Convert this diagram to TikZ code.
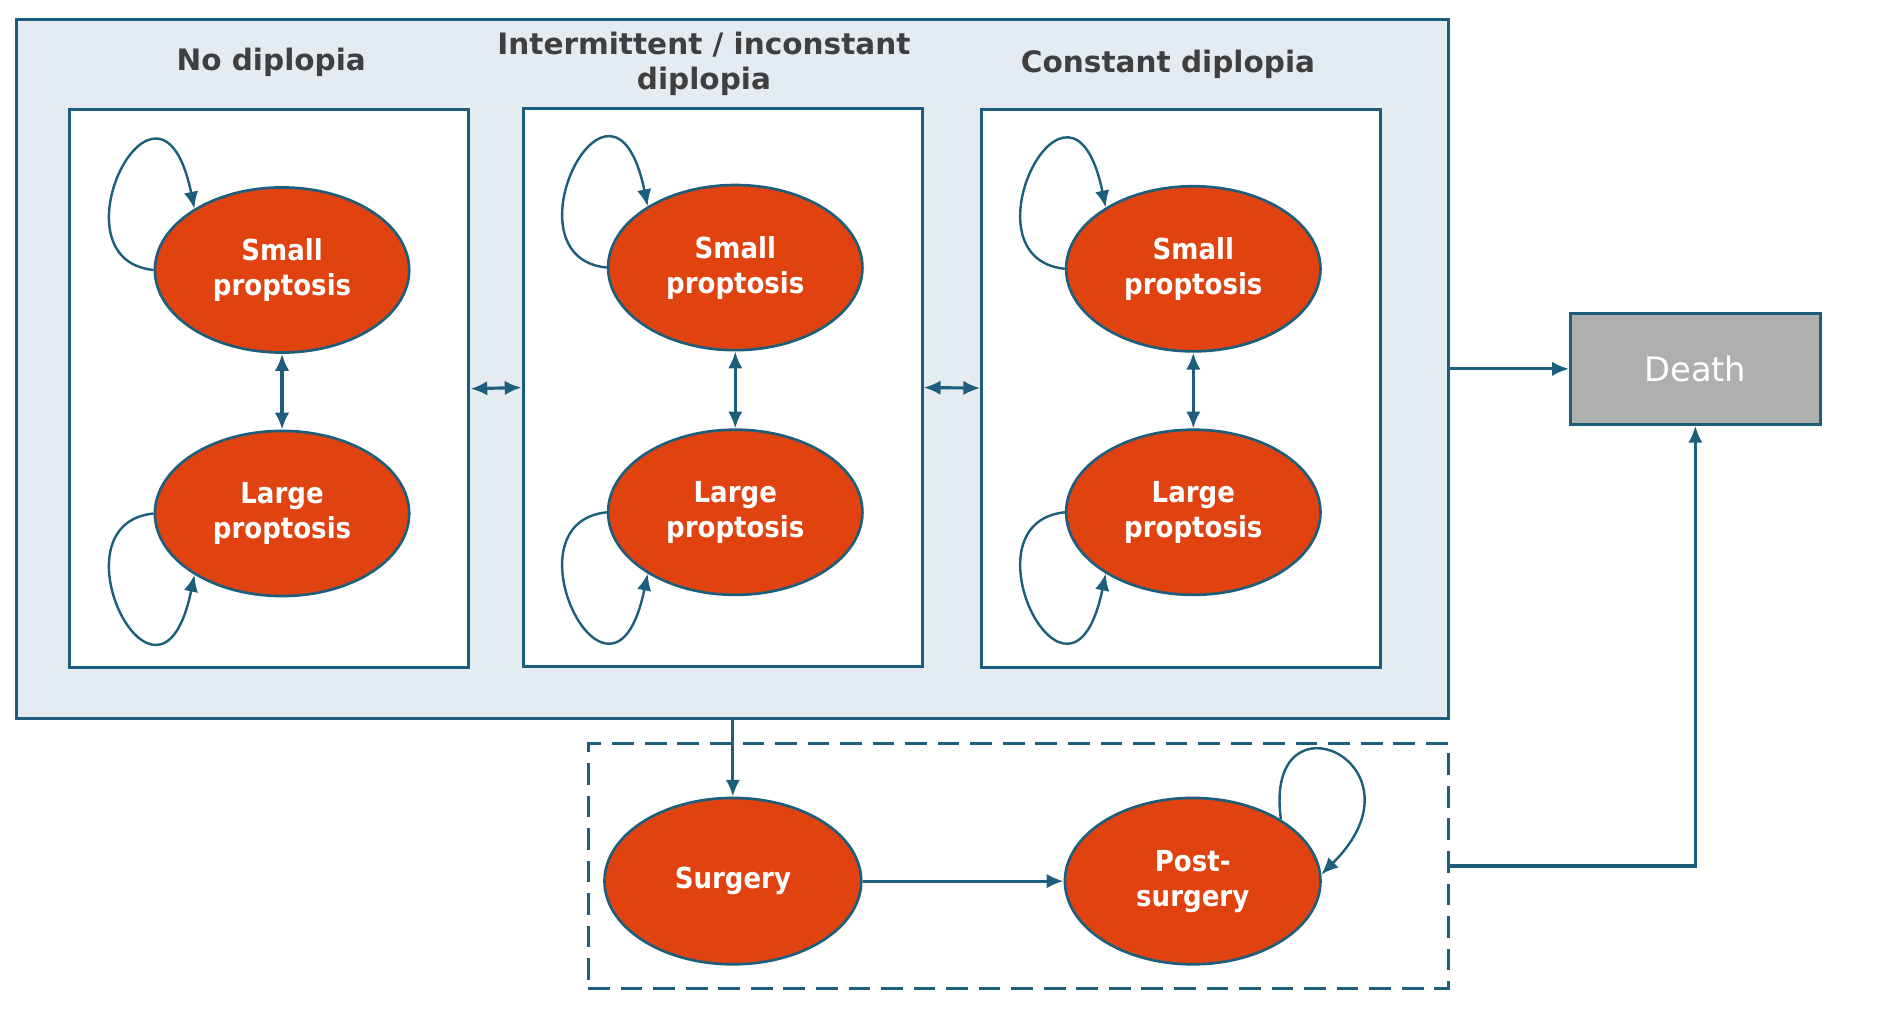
\documentclass[tikz,border=0pt]{standalone}
\usepackage{fontspec}
\setmainfont{DejaVu Sans}
\newfontfamily\statefont{DejaVu Sans Condensed}
\usetikzlibrary{shapes.geometric,arrows.meta}
\definecolor{lineblue}{HTML}{1D5E7C}
\definecolor{panelfill}{HTML}{E5ECF1}
\definecolor{stateorange}{HTML}{E0430F}
\definecolor{deathgray}{HTML}{AFAFAD}
\definecolor{titlegray}{HTML}{3F3F3F}
\tikzset{
  panel/.style={draw=lineblue, line width=2.6pt, fill=white, rectangle, minimum width=331pt, minimum height=463pt, inner sep=0pt},
  outerbox/.style={draw=lineblue, line width=2.6pt, fill=panelfill, rectangle, inner sep=0pt},
  state/.style={ellipse, draw=lineblue, line width=2.2pt, fill=stateorange, text=white, inner sep=0pt,
    minimum width=211pt, minimum height=137pt, align=center, font=\statefont\bfseries\fontsize{24}{29}\selectfont},
  title/.style={text=titlegray, align=center, font=\bfseries\fontsize{24.5}{29}\selectfont},
  tip/.tip={Latex[length=14pt,width=12pt]},
  conn/.style={draw=lineblue, line width=2.6pt, -tip},
  dconn/.style={draw=lineblue, line width=2.6pt, tip-tip},
  loopconn/.style={draw=lineblue, line width=2pt, -tip},
}
\begin{document}
\begin{tikzpicture}[x=1pt,y=-1pt]
\useasboundingbox (0,0) rectangle (1568,845);
\fill[white] (0,0) rectangle (1568,845);

% outer box
\node[outerbox, minimum width=1188pt, minimum height=580pt] (outer) at (608,306) {};

% titles
\node[title] (t1) at (225,52) {No diplopia};
\node[title] (t2) at (584,53) {Intermittent / inconstant\\diplopia};
\node[title] (t3) at (969,53) {Constant diplopia};

% panels
\node[panel] (b1) at (223.5,322.5) {};
\node[panel] (b2) at (599.5,321.5) {};
\node[panel] (b3) at (980,322) {};

% states
\node[state] (s1) at (234,224) {Small\\proptosis};
\node[state] (l1) at (234,426) {Large\\proptosis};
\node[state] (s2) at (610,222) {Small\\proptosis};
\node[state] (l2) at (610,425) {Large\\proptosis};
\node[state] (s3) at (990,223) {Small\\proptosis};
\node[state] (l3) at (990,425) {Large\\proptosis};

% vertical double arrows
\draw[dconn] (s1.south) -- (l1.north);
\draw[dconn] (s2.south) -- (l2.north);
\draw[dconn] (s3.south) -- (l3.north);

% self loops
\foreach \n in {s1,s2,s3}{
  \draw[loopconn] (\n.west) .. controls +(-88,-9) and +(-29,-141) .. (\n.145);
}
\foreach \n in {l1,l2,l3}{
  \draw[loopconn] (\n.west) .. controls +(-88,9) and +(-29,141) .. (\n.215);
}

% between panels
\draw[dconn] (b1.east) -- (b2.west);
\draw[dconn] (b2.east) -- (b3.west);

% death
\node[draw=lineblue, line width=2.6pt, fill=deathgray, rectangle, minimum width=207pt, minimum height=92pt,
  text=white, font=\fontsize{28}{32}\selectfont] (death) at (1406.5,306) {Death};
\draw[conn] (outer.east) -- (death.west);

% surgery block
\node[draw=lineblue, line width=2.6pt, dash pattern=on 18pt off 9pt, rectangle, minimum width=714pt, minimum height=203pt, inner sep=0pt] (dbox) at (845,718.5) {};
\node[state, minimum width=213pt, minimum height=138pt] (surg) at (608,731) {Surgery};
\node[state, minimum width=212pt, minimum height=138pt] (post) at (989.5,731) {Post-\\surgery};

\draw[conn] (outer.south) -- (surg.north);
\draw[conn] (surg.east) -- (post.west);
\draw[loopconn] (post.35) .. controls +(-15,-111) and +(93,-92) .. (post.3);
\draw[conn] (dbox.east) -| (death.south);
\end{tikzpicture}
\end{document}
